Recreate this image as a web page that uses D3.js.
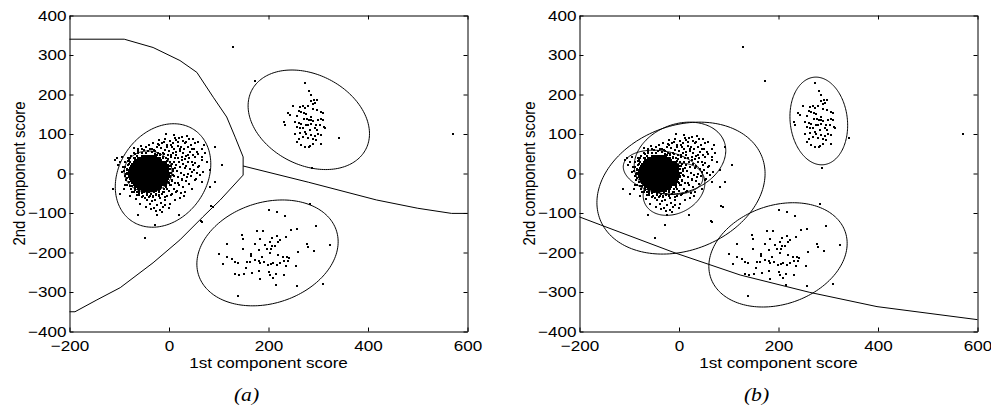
<!DOCTYPE html>
<html><head><meta charset="utf-8">
<script src="https://cdn.jsdelivr.net/npm/d3@7"></script>
<style>
html,body{margin:0;padding:0;background:#fff;}
svg{display:block;}
</style></head><body>
<svg id="chart" width="991" height="413"></svg>
<script>
// ---------- data ----------
const xTicks = [-200, 0, 200, 400, 600];
const yTicks = [-400, -300, -200, -100, 0, 100, 200, 300, 400];
const xDomain = [-200, 600];
const yDomain = [-400, 400];
const xLabel = "1st component score";
const yLabel = "2nd component score";
const captions = ["(a)", "(b)"];

// saturated core of the main cluster, as rows: [y, [x values]]
const coreRows = [
  [45, [-55,-51,-47,-43,-39,-35,-31,-27]],
  [40, [-62,-58,-54,-50,-46,-42,-38,-34,-30,-26,-22,-19]],
  [35, [-68,-64,-60,-56,-52,-48,-44,-40,-36,-32,-28,-24,-20,-16]],
  [30, [-71,-67,-63,-59,-55,-51,-47,-43,-39,-35,-31,-27,-23,-19,-15,-11]],
  [25, [-75,-71,-67,-63,-59,-55,-51,-47,-43,-39,-35,-31,-27,-23,-19,-15,-11,-7]],
  [20, [-77,-73,-69,-65,-61,-57,-53,-49,-45,-41,-37,-33,-29,-25,-21,-17,-13,-9,-5]],
  [15, [-79,-75,-71,-67,-63,-59,-55,-51,-47,-43,-39,-35,-31,-27,-23,-19,-15,-11,-7,-3]],
  [10, [-80,-77,-73,-69,-65,-61,-57,-53,-49,-45,-41,-37,-33,-29,-25,-21,-17,-13,-9,-5,-2]],
  [5,  [-81,-79,-75,-71,-67,-63,-59,-55,-51,-47,-43,-39,-35,-31,-27,-23,-19,-15,-11,-7,-3]],
  [0,  [-81,-77,-73,-69,-65,-61,-57,-53,-49,-45,-41,-37,-33,-29,-25,-21,-17,-13,-9,-5,-1]],
  [-5, [-81,-79,-75,-71,-67,-63,-59,-55,-51,-47,-43,-39,-35,-31,-27,-23,-19,-15,-11,-7,-3]],
  [-10,[-80,-77,-73,-69,-65,-61,-57,-53,-49,-45,-41,-37,-33,-29,-25,-21,-17,-13,-9,-5,-2]],
  [-15,[-79,-75,-71,-67,-63,-59,-55,-51,-47,-43,-39,-35,-31,-27,-23,-19,-15,-11,-7,-3]],
  [-20,[-77,-73,-69,-65,-61,-57,-53,-49,-45,-41,-37,-33,-29,-25,-21,-17,-13,-9,-5]],
  [-25,[-75,-71,-67,-63,-59,-55,-51,-47,-43,-39,-35,-31,-27,-23,-19,-15,-11,-7]],
  [-30,[-71,-67,-63,-59,-55,-51,-47,-43,-39,-35,-31,-27,-23,-19,-15,-11]],
  [-35,[-68,-64,-60,-56,-52,-48,-44,-40,-36,-32,-28,-24,-20,-16]],
  [-40,[-62,-58,-54,-50,-46,-42,-38,-34,-30,-26,-22,-19]],
  [-45,[-55,-51,-47,-43,-39,-35,-31,-27]]
];

// fuzzy rim of the core
const rimScores = [
  [4,1],[2,12],[-2,21],[-4,32],[-13,38],[-18,47],[-28,49],[-35,54],[-47,52],[-54,51],[-64,45],[-69,40],[-78,30],[-80,23],
  [-85,10],[-84,-1],[-85,-12],[-80,-21],[-78,-32],[-69,-38],[-64,-47],[-54,-49],[-45,-54],[-37,-52],[-26,-51],[-20,-45],
  [-11,-40],[-6,-30],[0,-23],[3,-10],
  [9,7],[5,19],[2,29],[-6,40],[-11,49],[-22,53],[-30,59],[-42,57],[-50,59],[-62,53],[-69,49],[-78,38],[-82,31],[-89,17],
  [-91,7],[-89,-7],[-87,-17],[-84,-29],[-76,-40],[-71,-47],[-60,-55],[-52,-57],[-40,-60],[-32,-57],[-20,-55],[-13,-47],
  [-4,-40],[2,-29],[7,-19],[9,-5]
];

// medium-density spread of the main cluster
const haloScores = [
  [-20,85],[-8,88],[2,82],[8,77],[14,84],[20,90],[28,83],[35,80],[-14,76],[-4,72],[6,68],[11,62],[18,70],[25,68],[31,62],[38,66],[44,72],
  [-25,68],[-17,64],[-9,60],[0,57],[8,52],[15,47],[22,56],[29,52],[35,45],[42,55],[48,48],[-28,58],[-12,52],[-3,48],[4,42],[11,30],
  [18,40],[26,42],[32,36],[40,38],[46,30],[52,26],[-2,36],[6,25],[14,22],[20,28],[28,24],[35,18],[42,12],[50,8],[56,2],[0,18],[8,12],
  [16,6],[24,2],[30,-4],[38,0],[44,-6],[3,2],[10,-6],[18,-10],[26,-14],[34,-20],[40,-26],[6,-16],[12,-24],[20,-30],[28,-34],[-2,-22],
  [4,-30],[10,-38],[16,-44],[24,-50],[-6,-34],[0,-44],[6,-52],[-10,-46],[-4,-56],[-14,-52],[-20,-58],[-26,-54],[-32,-60],[-38,-56],
  [-44,-50],[-50,-46],[-56,-40],[-62,-34],[-20,-48],[-30,-46],[-40,-47],[-8,-68],[-16,-74],[-24,-80],[-34,-70],[-44,-66],[-52,-58],
  [-60,-50],[-68,-42],[-74,-32],[-80,-22],[-84,-12],[-86,0],[-84,12],[-82,22],[-80,34],[-76,44],[-70,52],[-62,58],[-54,62],[-46,66],
  [-38,62],[-30,60],[-22,74],[-40,72],[-56,70],[-70,64],[-90,-38],[-92,16],[-94,4],[-88,28],[-78,-58],[-66,-64],[-58,-78],[-46,-84],
  [-36,-90],[-26,-96],[-12,-86],[0,-88],[12,-68],[22,-62],[30,-56],[60,20],[62,-4],[54,-14],[66,34],[58,50],[50,62],[36,94],[10,98],
  [-6,100],[48,88],[58,80],[70,72],[72,52],[-68,-20],[-60,-30],[-52,-36],[-8,-8],[-4,10],[-6,28],[-12,42],[-18,50],[-2,-12],
  [-10,20],[-6,4],[-4,-4],[-16,-30],[-70,40],[-84,2],[-60,-44],[-24,48],[-5,32],[-10,-20],[2,-6],
  [12,90],[27,93],[41,87],[52,76],[19,80],[32,76],[5,73],[-5,67],[-11,80],[-21,72],[-32,76],[-35,63],[-63,63],[46,63],[56,55],[66,63],
  [22,63],[15,55],[29,51],[39,46],[52,42],[66,42],[76,29],[39,29],[26,34],[12,38],[5,46],[49,21],[59,17],[69,4],[82,8],[46,4],[32,13],
  [22,17],[12,13],[52,-17],[66,-21],[36,-9],[27,-17],[19,-25],[46,-38],[32,-47],[15,-47],[5,-55],[-8,-59],[-18,-63],[-28,-67],[-38,-76],
  [-31,-88],[-18,-93],[-8,-80],[2,-76],[-48,-63],[-55,-59],[-62,-105],[-25,-105],[-15,-97],[-65,-55],[-75,-47],[-88,-30],[-98,-51],
  [-112,-38],[-102,21],[-98,29],[-108,34],[-95,42],[-82,39],[92,67],[106,21],[92,-21],[82,-34],[89,-84],[66,-122],[-28,-131],
  [-48,-163],[-105,38],[20,-105]
];

// upper-right cluster
const upperClusterScores = [
  [274,230],[281,209],[286,199],[291,187],[297,187],[286,183],[289,177],[294,178],[249,171],[263,168],[269,170],[274,167],[279,172],
  [289,164],[298,162],[261,158],[266,156],[271,153],[239,152],[243,147],[276,150],[285,143],[258,145],[306,156],[310,152],[271,137],
  [278,139],[281,135],[286,136],[289,133],[299,136],[306,139],[310,135],[231,130],[233,124],[253,130],[261,128],[266,126],[276,124],
  [279,124],[286,126],[296,124],[303,122],[312,118],[314,114],[258,118],[263,114],[269,116],[283,111],[293,116],[298,109],[253,101],
  [263,103],[273,105],[276,99],[286,97],[293,94],[299,101],[305,97],[261,88],[269,92],[279,90],[289,88],[296,84],[258,80],[266,71],
  [273,67],[283,69],[289,74],[305,74],[281,66],[341,90]
];

// lower cluster
const lowerClusterScores = [
  [283,-78],[201,-93],[218,-97],[233,-108],[295,-133],[177,-145],[188,-145],[146,-156],[257,-141],[245,-143],[148,-165],[182,-165],
  [208,-163],[218,-158],[235,-160],[223,-168],[220,-173],[203,-173],[173,-179],[193,-181],[208,-184],[213,-183],[116,-179],[278,-179],
  [280,-185],[324,-181],[149,-192],[180,-194],[196,-192],[205,-191],[101,-204],[116,-211],[164,-205],[165,-209],[186,-211],[203,-202],
  [220,-207],[230,-211],[237,-211],[241,-213],[260,-198],[291,-196],[126,-216],[133,-223],[156,-223],[163,-225],[173,-219],[180,-221],
  [183,-227],[190,-223],[198,-232],[206,-230],[210,-227],[218,-232],[224,-227],[231,-221],[240,-221],[108,-230],[139,-227],[255,-233],
  [235,-233],[155,-238],[133,-254],[141,-257],[151,-255],[167,-253],[180,-247],[202,-250],[203,-257],[215,-254],[232,-257],[183,-267],
  [210,-264],[215,-282],[257,-286],[310,-280],[138,-309]
];

// isolated points
const outlierScores = [[129,319],[173,235],[571,101],[288,13],[84,-82],[64,-120]];

// Gaussian components: [meanX, meanY, sdX, sdY, correlation]
const componentsA = [
  [-12, -5, 96, 131, 0.22],
  [-42, 5, 48, 52, 0.0],
  [281, 136, 122, 126, -0.28],
  [198, -201, 142, 134, 0.21]
];
const componentsB = [
  [4, -37, 169, 167, 0.22],
  [2, 39, 92, 91, 0.21],
  [-32, 3, 80, 56, -0.25],
  [-10, -40, 62, 66, 0.24],
  [281, 133, 58, 111, -0.1],
  [199, -206, 139, 132, 0.22]
];

// decision boundaries
const boundaryA1 = [[-200,340],[-90,340],[-32,319],[22,286],[56,256],[89,193],[116,143],[133,92],[149,42],[149,-4],
  [103,-67],[68,-110],[22,-168],[-32,-226],[-98,-289],[-145,-320],[-189,-350],[-200,-350]];
const boundaryA2 = [[149,19],[280,-22],[417,-67],[500,-88],[568,-101],[600,-101]];
const boundaryB1 = [[-200,-110],[-158,-130],[-8,-201],[123,-257],[263,-301],[398,-337],[600,-370]];

// ---------- drawing ----------
const svg = d3.select("#chart");
const SX = 1.14;
const FONT = "'Liberation Sans', Arial, Helvetica, sans-serif";

const allScores = coreRows.flatMap(([yv, xs]) => xs.map(xv => [xv, yv]))
  .concat(rimScores, haloScores, upperClusterScores, lowerClusterScores, outlierScores);

function drawPanel(left, comps, lines, caption, capX) {
  const W = 398, top = 15.5, bottom = 331.5;
  const x = d3.scaleLinear().domain(xDomain).range([left, left + W]);
  const y = d3.scaleLinear().domain(yDomain).range([bottom, top]);
  const g = svg.append("g");

  g.append("g").attr("shape-rendering", "crispEdges")
    .selectAll("rect").data(allScores).join("rect")
    .attr("x", d => Math.round(x(d[0]) - 1)).attr("y", d => Math.round(y(d[1]) - 1))
    .attr("width", 2).attr("height", 2).attr("fill", "#000");

  const line = d3.line().x(p => x(p[0])).y(p => y(p[1]));
  const angles = d3.range(0, 360, 2).map(a => a * Math.PI / 180);
  comps.forEach(([mx, my, sx, sy, r]) => {
    const pts = angles.map(t => [mx + sx * Math.cos(t),
      my + sy * (r * Math.cos(t) + Math.sqrt(1 - r * r) * Math.sin(t))]);
    g.append("path").attr("d", line(pts) + "Z")
      .attr("fill", "none").attr("stroke", "#000").attr("stroke-width", 1);
  });
  lines.forEach(l => g.append("path").attr("d", line(l))
    .attr("fill", "none").attr("stroke", "#000").attr("stroke-width", 1));

  const styleAxis = (sel) => {
    sel.attr("font-size", 15).attr("font-family", FONT);
    sel.select(".domain").attr("stroke", "#000").attr("stroke-width", 1);
    sel.selectAll(".tick line").attr("stroke", "#000");
    sel.selectAll(".tick text").attr("fill", "#000");
  };
  const xb = g.append("g").attr("transform", `translate(0,${bottom})`)
    .call(d3.axisBottom(x).tickValues(xTicks).tickSizeInner(-4).tickSizeOuter(0).tickPadding(9)
      .tickFormat(d3.format("d")));
  styleAxis(xb);
  xb.selectAll(".tick text").attr("transform", `scale(${SX},1)`);
  const xt = g.append("g").attr("transform", `translate(0,${top})`)
    .call(d3.axisTop(x).tickValues(xTicks).tickSizeInner(-4).tickSizeOuter(0).tickFormat(""));
  styleAxis(xt);
  const yl = g.append("g").attr("transform", `translate(${left},0)`)
    .call(d3.axisLeft(y).tickValues(yTicks).tickSizeInner(-4).tickSizeOuter(0).tickPadding(3)
      .tickFormat(d3.format("d")));
  styleAxis(yl);
  yl.selectAll(".tick text").attr("x", -3 / SX).attr("transform", `scale(${SX},1)`);
  const yr = g.append("g").attr("transform", `translate(${left + W},0)`)
    .call(d3.axisRight(y).tickValues(yTicks).tickSizeInner(-4).tickSizeOuter(0).tickFormat(""));
  styleAxis(yr);

  g.append("text")
    .attr("transform", `translate(${left + W / 2},368) scale(${SX},1)`)
    .attr("text-anchor", "middle").attr("font-family", FONT).attr("font-size", 15)
    .text(xLabel);
  g.append("text")
    .attr("transform", `translate(${left - 44.5},${(top + bottom) / 2}) rotate(-90) scale(1,${SX})`)
    .attr("text-anchor", "middle").attr("font-family", FONT).attr("font-size", 15)
    .text(yLabel);
  g.append("text")
    .attr("transform", `translate(${capX},401) scale(${SX},1)`)
    .attr("text-anchor", "middle").attr("font-family", "'Liberation Serif', 'Times New Roman', serif")
    .attr("font-style", "italic").attr("font-size", 19)
    .text(caption);
}

drawPanel(69.5, componentsA, [boundaryA1, boundaryA2], captions[0], 246.5);
drawPanel(579.5, componentsB, [boundaryB1], captions[1], 756.5);
</script>
</body></html>
